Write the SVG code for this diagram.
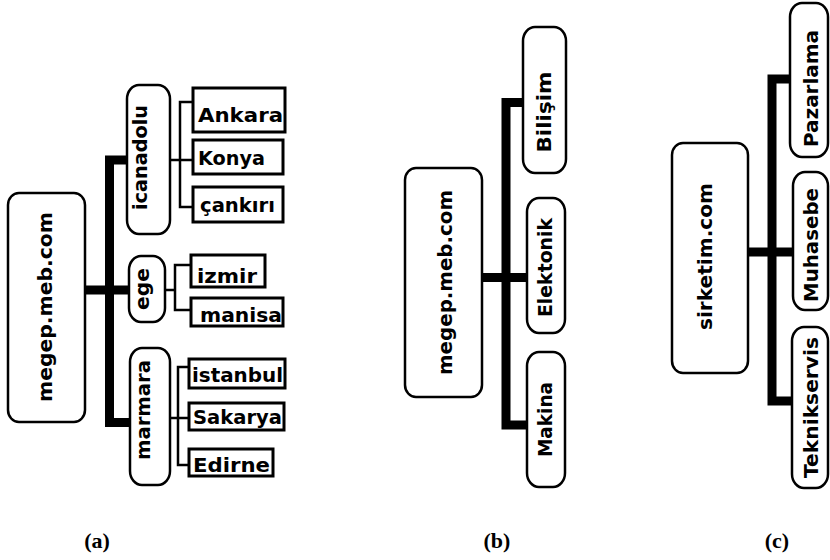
<svg xmlns="http://www.w3.org/2000/svg" width="830" height="560" viewBox="0 0 830 560">
<style>
.node{fill:#fff;stroke:#000;stroke-width:2.5}
.box{fill:#fff;stroke:#000;stroke-width:3}
.thick{fill:none;stroke:#000;stroke-width:9;stroke-linejoin:miter;stroke-linecap:butt}
.thin{fill:none;stroke:#000;stroke-width:2.5;stroke-linejoin:miter}
.t{font-family:"DejaVu Sans","Liberation Sans",sans-serif;font-weight:bold;font-size:20px;fill:#000}
.v{text-anchor:middle}
.cap{font-family:"Liberation Serif",serif;font-weight:bold;font-size:22px;text-anchor:middle;fill:#000}
</style>
<rect width="830" height="560" fill="#fff"/>
<g id="connectors">
<path class="thick" d="M127,160 H109.5 V422.5 H130"/>
<path class="thick" d="M85,290 H130"/>
<path class="thin" d="M170,160 H193 M193,102 H180 V207 H193"/>
<path class="thin" d="M165,290 H175 M191,265 H175 V310 H191"/>
<path class="thin" d="M170,418 H189 M189,367 H178 V465 H189"/>
<path class="thick" d="M523,102.5 H506 V425 H527"/>
<path class="thick" d="M482,277.5 H527"/>
<path class="thick" d="M790,79 H772 V401 H792"/>
<path class="thick" d="M748,252 H793"/>
</g>
<g id="a_root"><rect class="node" x="8" y="193" width="77" height="229" rx="11" ry="12"/><text class="t v" transform="translate(52,307) rotate(-90)" textLength="190" lengthAdjust="spacingAndGlyphs">megep.meb.com</text></g>
<g id="a_icanadolu"><rect class="node" x="127" y="85" width="43" height="149" rx="12" ry="14"/><text class="t v" transform="translate(147,157.5) rotate(-90)" textLength="105" lengthAdjust="spacingAndGlyphs">icanadolu</text></g>
<g id="a_ege"><rect class="node" x="129" y="256" width="36" height="66" rx="12" ry="14"/><text class="t v" transform="translate(149,289) rotate(-90)" textLength="42" lengthAdjust="spacingAndGlyphs">ege</text></g>
<g id="a_marmara"><rect class="node" x="130" y="348" width="40" height="137" rx="12" ry="14"/><text class="t v" transform="translate(150,410) rotate(-90)" textLength="100" lengthAdjust="spacingAndGlyphs">marmara</text></g>
<g id="a_ankara"><rect class="box" x="193" y="88" width="92" height="44"/><text class="t" x="198" y="122" textLength="85" lengthAdjust="spacingAndGlyphs">Ankara</text></g>
<g id="a_konya"><rect class="box" x="193" y="140" width="90" height="34"/><text class="t" x="198" y="165" textLength="67" lengthAdjust="spacingAndGlyphs">Konya</text></g>
<g id="a_cankiri"><rect class="box" x="193" y="187" width="90" height="35"/><text class="t" x="200" y="212" textLength="75" lengthAdjust="spacingAndGlyphs">çankırı</text></g>
<g id="a_izmir"><rect class="box" x="191" y="255" width="74" height="32"/><text class="t" x="197" y="283" textLength="60" lengthAdjust="spacingAndGlyphs">izmir</text></g>
<g id="a_manisa"><rect class="box" x="191" y="298" width="92" height="28"/><text class="t" x="200" y="322" textLength="82" lengthAdjust="spacingAndGlyphs">manisa</text></g>
<g id="a_istanbul"><rect class="box" x="189" y="359" width="96" height="29"/><text class="t" x="192" y="382" textLength="91" lengthAdjust="spacingAndGlyphs">istanbul</text></g>
<g id="a_sakarya"><rect class="box" x="189" y="403" width="95" height="27"/><text class="t" x="193" y="424" textLength="89" lengthAdjust="spacingAndGlyphs">Sakarya</text></g>
<g id="a_edirne"><rect class="box" x="189" y="449" width="84" height="27"/><text class="t" x="193" y="472" textLength="77" lengthAdjust="spacingAndGlyphs">Edirne</text></g>
<g id="b_root"><rect class="node" x="405" y="168" width="77" height="229" rx="11" ry="12"/><text class="t v" transform="translate(452,282.5) rotate(-90)" textLength="185" lengthAdjust="spacingAndGlyphs">megep.meb.com</text></g>
<g id="b_bilisim"><rect class="node" x="523" y="27" width="43" height="146" rx="12" ry="14"/><text class="t v" transform="translate(551,112) rotate(-90)" textLength="81" lengthAdjust="spacingAndGlyphs">Bilişim</text></g>
<g id="b_elektonik"><rect class="node" x="527" y="198" width="38" height="135" rx="12" ry="14"/><text class="t v" transform="translate(552,267.5) rotate(-90)" textLength="99" lengthAdjust="spacingAndGlyphs">Elektonik</text></g>
<g id="b_makina"><rect class="node" x="527" y="352" width="38" height="135" rx="12" ry="14"/><text class="t v" transform="translate(552,419.5) rotate(-90)" textLength="75" lengthAdjust="spacingAndGlyphs">Makina</text></g>
<g id="c_root"><rect class="node" x="672" y="143" width="76" height="230" rx="11" ry="12"/><text class="t v" transform="translate(712,256.5) rotate(-90)" textLength="147" lengthAdjust="spacingAndGlyphs">sirketim.com</text></g>
<g id="c_pazarlama"><rect class="node" x="790" y="3" width="38" height="154" rx="12" ry="14"/><text class="t v" transform="translate(818,88.5) rotate(-90)" textLength="117" lengthAdjust="spacingAndGlyphs">Pazarlama</text></g>
<g id="c_muhasebe"><rect class="node" x="793" y="172" width="35" height="138" rx="12" ry="14"/><text class="t v" transform="translate(818,245) rotate(-90)" textLength="114" lengthAdjust="spacingAndGlyphs">Muhasebe</text></g>
<g id="c_teknikservis"><rect class="node" x="792" y="327" width="36" height="161" rx="12" ry="14"/><text class="t v" transform="translate(818,407.5) rotate(-90)" textLength="141" lengthAdjust="spacingAndGlyphs">Teknikservis</text></g>
<g id="labels">
<text class="cap" x="97" y="548">(a)</text>
<text class="cap" x="497" y="548">(b)</text>
<text class="cap" x="777" y="548">(c)</text>
</g>
</svg>
